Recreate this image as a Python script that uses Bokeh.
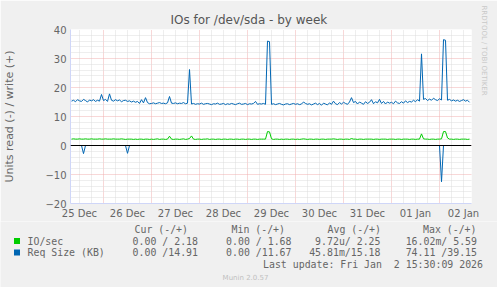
from bokeh.plotting import figure
from bokeh.models import Range1d, FixedTicker, Span, Title
from bokeh.embed import file_html
from bokeh.resources import INLINE
from bokeh.core.properties import value

# ---------------- data ----------------
title_text = "IOs for /dev/sda - by week"
y_label = "Units read (-) / write (+)"
watermark = "RRDTOOL / TOBI OETIKER"
day_labels = ["25 Dec", "26 Dec", "27 Dec", "28 Dec", "29 Dec",
              "30 Dec", "31 Dec", "01 Jan", "02 Jan"]
y_ticks = [-20, -10, 0, 10, 20, 30, 40]

# hourly samples, hours counted from 25 Dec 00:00
start_hour = 8

# Req Size (KB), write (+)
req_write = [
    15.3, 15.6, 15.1, 15.8, 15.4, 15.2, 15.9, 15.5, 15.0, 15.7,
    15.4, 15.8, 15.2, 15.6, 15.3, 17.6, 15.5, 15.9, 15.2, 17.8,
    15.6, 15.3, 15.8, 15.4, 15.7, 15.1, 15.5, 15.6, 15.2, 15.4,
    15.0, 15.3, 14.9, 15.2, 14.5, 15.8, 14.7, 16.5, 14.8, 14.4,
    14.5, 14.7, 14.4, 14.6, 14.8, 14.5, 14.6, 14.4, 14.7, 16.9,
    14.6, 14.5, 14.7, 14.4, 14.6, 14.5, 14.8, 14.4, 14.6, 26.2,
    14.3, 14.5, 14.2, 14.4, 14.3, 14.6, 14.2, 14.4, 14.5, 14.3,
    14.1, 14.4, 14.3, 14.6, 14.2, 14.3, 14.5, 14.1, 14.4, 14.2,
    14.5, 14.3, 14.1, 14.4, 14.6, 14.2, 14.3, 14.5, 14.1, 14.4,
    14.3, 14.5, 15.2, 14.2, 14.4, 14.3, 14.5, 14.2, 36.0, 35.8,
    14.2, 14.4, 14.1, 14.3, 14.5, 14.2, 14.0, 14.3, 14.4, 14.1,
    14.3, 14.5, 14.2, 14.4, 14.1, 14.3, 15.0, 14.5, 14.2, 14.4,
    14.0, 14.3, 14.6, 14.1, 14.5, 13.9, 14.6, 14.3, 14.0, 14.7,
    14.2, 15.3, 14.4, 14.1, 14.8, 14.3, 14.9, 14.5, 14.2, 15.0,
    16.5, 14.8, 15.2, 14.3, 15.0, 14.6, 14.2, 15.1, 14.5, 14.9,
    15.8, 14.4, 15.1, 14.7, 15.9, 14.5, 15.2, 14.3, 15.0, 14.6,
    14.9, 14.4, 15.3, 14.7, 14.5, 15.1, 14.6, 15.4, 14.8, 15.2,
    15.0, 15.6, 15.1, 15.8, 15.3, 31.6, 15.9, 16.2, 15.5, 16.0,
    15.6, 16.3, 15.8, 15.5, 16.1, 15.7, 36.5, 36.3, 15.6, 15.9,
    15.4, 15.7, 15.3, 15.6, 15.2, 15.5, 15.8, 15.3, 15.6, 14.9,
]

# IO/sec, write (+)
io_write = [
    2.2, 2.3, 2.2, 2.2, 2.3, 2.2, 2.2, 2.3, 2.2, 2.2,
    2.3, 2.2, 2.2, 2.2, 2.3, 2.2, 2.2, 2.3, 2.2, 2.2,
    2.2, 2.3, 2.2, 2.2, 2.2, 2.3, 2.2, 2.1, 2.2, 2.2,
    2.2, 2.1, 2.2, 2.1, 2.2, 2.2, 2.1, 2.2, 2.2, 2.1,
    2.2, 2.1, 2.2, 2.3, 2.1, 2.2, 2.2, 2.1, 2.2, 3.2,
    2.2, 2.1, 2.2, 2.2, 2.1, 2.2, 2.3, 2.1, 2.2, 2.4,
    3.3, 2.2, 2.1, 2.2, 2.2, 2.1, 2.2, 2.2, 2.3, 2.1,
    2.2, 2.2, 2.1, 2.2, 2.2, 2.1, 2.2, 2.2, 2.1, 2.2,
    2.2, 2.1, 2.2, 2.2, 2.1, 2.2, 2.2, 2.1, 2.2, 2.2,
    2.1, 2.2, 2.2, 2.1, 2.2, 2.2, 2.2, 2.2, 4.8, 4.7,
    2.3, 2.1, 2.2, 2.2, 2.1, 2.2, 2.1, 2.2, 2.2, 2.1,
    2.2, 2.2, 2.1, 2.2, 2.1, 2.2, 2.3, 2.2, 2.1, 2.2,
    2.2, 2.1, 2.2, 2.2, 2.1, 2.2, 2.2, 2.1, 2.2, 2.2,
    2.2, 2.3, 2.2, 2.1, 2.2, 2.2, 2.1, 2.2, 2.2, 2.1,
    2.4, 2.2, 2.2, 2.1, 2.2, 2.2, 2.1, 2.2, 2.2, 2.2,
    2.2, 2.1, 2.2, 2.2, 2.1, 2.2, 2.2, 2.2, 2.1, 2.2,
    2.2, 2.2, 2.1, 2.2, 2.2, 2.1, 2.2, 2.2, 2.2, 2.1,
    2.2, 2.2, 2.1, 2.2, 2.2, 4.0, 2.3, 2.2, 2.2, 2.1,
    2.2, 2.2, 2.1, 2.2, 2.2, 2.3, 4.8, 4.8, 2.6, 2.2,
    2.2, 2.1, 2.2, 2.2, 2.1, 2.2, 2.2, 2.2, 2.1, 2.2,
]

# read (-) side: non-zero hourly values only (hour -> value)
req_read_nonzero = {14: 2.8, 36: 2.7, 193: 12.5}
io_read_nonzero = {}

# legend table
legend_names = ["IO/sec", "Req Size (KB)"]
legend_colors = ["#00CC00", "#0066B3"]
col_headers = ["Cur (-/+)", "Min (-/+)", "Avg (-/+)", "Max (-/+)"]
cur_vals = ["0.00 / 2.18", "0.00 /14.91"]
min_vals = ["0.00 / 1.68", "0.00 /11.67"]
avg_vals = ["9.72u/ 2.25", "45.81m/15.18"]
max_vals = ["16.02m/ 5.59", "74.11 /39.15"]
last_update = "Last update: Fri Jan  2 15:30:09 2026"
footer = "Munin 2.0.57"

# ---------------- derived ----------------
hours = list(range(start_hour, start_hour + len(req_write)))
req_read = [-req_read_nonzero.get(h, 0.0) for h in hours]
io_read = [-io_read_nonzero.get(h, 0.0) for h in hours]

label_ticks = [12 + 24 * i for i in range(len(day_labels))]
midnights = [24 * i for i in range(1, 9)]
six_hours = [6 * i for i in range(1, 36) if i % 4 != 0]
y_minor = [v for v in range(-20, 41, 2) if v % 10 != 0]

FONT = "#666666"
AXIS = "#CFD6F8"
MGRID = "#F0B0B0"
GRID = "#DCDCDC"
NB = "\u00a0"

def keep_spaces(s):
    return s.replace(" ", NB)

# ---------------- main chart ----------------
p = figure(frame_width=401, frame_height=174,
           x_range=Range1d(7.5, 208), y_range=Range1d(-20, 40),
           output_backend="svg", toolbar_location=None,
           min_border_left=66, min_border_right=30,
           min_border_top=29, min_border_bottom=17,
           background_fill_color="white", border_fill_color="#F0F0F0",
           outline_line_color=None)

p.title.text = title_text
p.title.align = "left"
p.title.offset = 100
p.title.standoff = 6
p.title.text_font = "DejaVu Sans"
p.title.text_font_size = "12px"
p.title.text_font_style = "normal"
p.title.text_color = "#555555"

# grids
p.xgrid.ticker = FixedTicker(ticks=midnights, minor_ticks=six_hours)
p.ygrid.ticker = FixedTicker(ticks=y_ticks, minor_ticks=y_minor)
for g in (p.xgrid, p.ygrid):
    g.grid_line_color = MGRID
    g.grid_line_dash = "1 1"
    g.minor_grid_line_color = GRID
    g.minor_grid_line_dash = "1 1"

# axes
p.xaxis.ticker = FixedTicker(ticks=label_ticks)
p.xaxis.major_label_overrides = {t: lab for t, lab in zip(label_ticks, day_labels)}
p.yaxis.ticker = FixedTicker(ticks=y_ticks)
for ax in (p.xaxis, p.yaxis):
    ax.axis_line_color = AXIS
    ax.major_tick_line_color = None
    ax.minor_tick_line_color = None
    ax.major_tick_out = 0
    ax.major_tick_in = 0
    ax.major_label_text_font = "DejaVu Sans"
    ax.major_label_text_font_size = "10px"
    ax.major_label_text_color = FONT
p.xaxis.major_label_standoff = 4
p.yaxis.major_label_standoff = 4
p.yaxis.axis_label = y_label
p.yaxis.axis_label_text_font = "DejaVu Sans"
p.yaxis.axis_label_text_font_size = "11px"
p.yaxis.axis_label_text_font_style = "normal"
p.yaxis.axis_label_text_color = FONT
p.yaxis.axis_label_standoff = 26

# series
p.line(hours, io_read, line_color=legend_colors[0], line_width=1)
p.line(hours, io_write, line_color=legend_colors[0], line_width=1)
p.line(hours, req_read, line_color=legend_colors[1], line_width=1)
p.line(hours, req_write, line_color=legend_colors[1], line_width=1)

p.add_layout(Span(location=0, dimension="width", line_color="black", line_width=1))

wm = Title(text=watermark, align="left", offset=-24, standoff=16,
           text_font="DejaVu Sans", text_font_size="7px",
           text_font_style="normal", text_color="#C8C8C8")
p.add_layout(wm, "right")

# ---------------- legend panel (separate root, pixel coordinates) ----------------
LH = 67
top = 220
lg = figure(width=497, height=LH, x_range=Range1d(0, 497), y_range=Range1d(LH, 0),
            output_backend="svg", toolbar_location=None,
            x_axis_location=None, y_axis_location=None,
            min_border=0, min_border_left=0, min_border_right=0,
            min_border_top=0, min_border_bottom=0,
            background_fill_color="#F0F0F0", border_fill_color="#F0F0F0",
            outline_line_color=None)
lg.grid.visible = False

row_y = [239.5 - top, 251 - top]
lg.rect(x=[16.5, 16.5], y=row_y, width=6, height=6, fill_color=legend_colors,
        line_color=None)

mono = dict(text_font=value("DejaVu Sans Mono"), text_font_size=value("9.9px"),
            text_color=FONT, text_baseline="middle")

lg.text(x=[27, 27], y=row_y, text=[keep_spaces(s) for s in legend_names],
        text_align="left", **mono)
lg.text(x=[134, 231, 327, 422.5], y=[228 - top] * 4,
        text=[keep_spaces(s) for s in col_headers], text_align="left", **mono)
lg.text(x=[197.5] * 2, y=row_y, text=[keep_spaces(s) for s in cur_vals],
        text_align="right", **mono)
lg.text(x=[291] * 2, y=row_y, text=[keep_spaces(s) for s in min_vals],
        text_align="right", **mono)
lg.text(x=[380] * 2, y=row_y, text=[keep_spaces(s) for s in avg_vals],
        text_align="right", **mono)
lg.text(x=[476.5] * 2, y=row_y, text=[keep_spaces(s) for s in max_vals],
        text_align="right", **mono)
lg.text(x=[482.5], y=[263 - top], text=[keep_spaces(last_update)],
        text_align="right", **mono)
lg.text(x=[245], y=[276 - top], text=[footer], text_align="center",
        text_baseline="middle", text_font=value("DejaVu Sans"),
        text_font_size=value("7px"), text_color="#C0C0C0")

open("out.html", "w").write(file_html([p, lg], INLINE))
